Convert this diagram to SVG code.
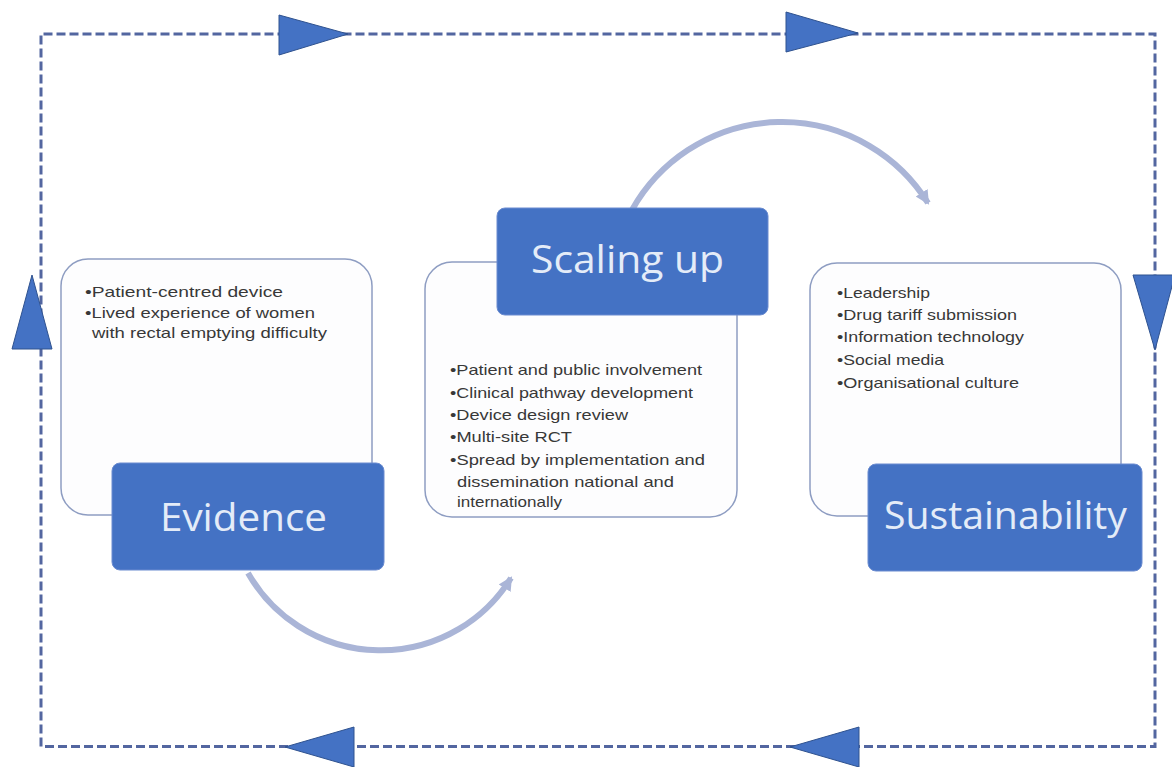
<svg xmlns="http://www.w3.org/2000/svg" width="1172" height="767" viewBox="0 0 1172 767">
<style>
.frame{fill:none;stroke:#5366a0;stroke-width:3;stroke-dasharray:9 4}
.tri{fill:#4472c4;stroke:#2f528f;stroke-width:1}
.card{fill:#fdfdfe;stroke:#8e9dc2;stroke-width:1.5}
.head{fill:#4472c4;stroke:#6a8bd0;stroke-width:1}
.title{font-family:"Open Sans","Liberation Sans",sans-serif;font-size:38px;fill:#e4ecf8}
.bul{font-family:"Liberation Sans",Arial,sans-serif;font-size:15px;fill:#383838}
.arc{fill:none;stroke:#aab5d7;stroke-width:6}
</style>
<defs>
<marker id="ah" markerUnits="userSpaceOnUse" markerWidth="16" markerHeight="16" viewBox="0 0 16 16" refX="12" refY="8" orient="auto">
<path d="M0,1 L14,8 L0,15 z" fill="#aab5d7"/>
</marker>
</defs>
<g id="connectors">
<path class="frame" d="M41,746.5 L41,34 L1155,34 L1155,746.5 Z"/>
<polygon class="tri" points="279,15 348,34 279,55"/>
<polygon class="tri" points="786,12 858,33 786,52"/>
<polygon class="tri" points="1133,275 1175,275 1155,350"/>
<polygon class="tri" points="354,727 285,747 354,767"/>
<polygon class="tri" points="859,727 790,747 859,767"/>
<polygon class="tri" points="12,349 52,349 32,275"/>
<path class="arc" d="M632,210 A172,172 0 0 1 928,203" marker-end="url(#ah)"/>
<path class="arc" d="M248,573 A153,153 0 0 0 511,578" marker-end="url(#ah)"/>
</g>
<g id="evidence">
<rect class="card" x="61" y="259" width="311" height="256" rx="27"/>
<text class="bul" x="85" y="297" textLength="198" lengthAdjust="spacingAndGlyphs">•Patient-centred device</text>
<text class="bul" x="85" y="318" textLength="230" lengthAdjust="spacingAndGlyphs">•Lived experience of women</text>
<text class="bul" x="92" y="338" textLength="235" lengthAdjust="spacingAndGlyphs">with rectal emptying difficulty</text>
<rect class="head" x="112" y="463" width="272" height="107" rx="8"/>
<text class="title" x="160" y="531" textLength="167" lengthAdjust="spacingAndGlyphs">Evidence</text>
</g>
<g id="scaling-up">
<rect class="card" x="425" y="262" width="312" height="255" rx="27"/>
<text class="bul" x="450" y="375" textLength="252" lengthAdjust="spacingAndGlyphs">•Patient and public involvement</text>
<text class="bul" x="450" y="398" textLength="243" lengthAdjust="spacingAndGlyphs">•Clinical pathway development</text>
<text class="bul" x="450" y="420" textLength="178" lengthAdjust="spacingAndGlyphs">•Device design review</text>
<text class="bul" x="450" y="442" textLength="122" lengthAdjust="spacingAndGlyphs">•Multi-site RCT</text>
<text class="bul" x="450" y="465" textLength="255" lengthAdjust="spacingAndGlyphs">•Spread by implementation and</text>
<text class="bul" x="457" y="487" textLength="217" lengthAdjust="spacingAndGlyphs">dissemination national and</text>
<text class="bul" x="457" y="507" textLength="105" lengthAdjust="spacingAndGlyphs">internationally</text>
<rect class="head" x="497" y="208" width="271" height="107" rx="8"/>
<text class="title" x="531" y="273" textLength="193" lengthAdjust="spacingAndGlyphs">Scaling up</text>
</g>
<g id="sustainability">
<rect class="card" x="810" y="263" width="311" height="253" rx="27"/>
<text class="bul" x="837" y="298" textLength="93" lengthAdjust="spacingAndGlyphs">•Leadership</text>
<text class="bul" x="837" y="320" textLength="180" lengthAdjust="spacingAndGlyphs">•Drug tariff submission</text>
<text class="bul" x="837" y="342" textLength="187" lengthAdjust="spacingAndGlyphs">•Information technology</text>
<text class="bul" x="837" y="365" textLength="107" lengthAdjust="spacingAndGlyphs">•Social media</text>
<text class="bul" x="837" y="388" textLength="182" lengthAdjust="spacingAndGlyphs">•Organisational culture</text>
<rect class="head" x="868" y="464" width="274" height="107" rx="8"/>
<text class="title" x="884" y="529" textLength="243" lengthAdjust="spacingAndGlyphs">Sustainability</text>
</g>
</svg>
